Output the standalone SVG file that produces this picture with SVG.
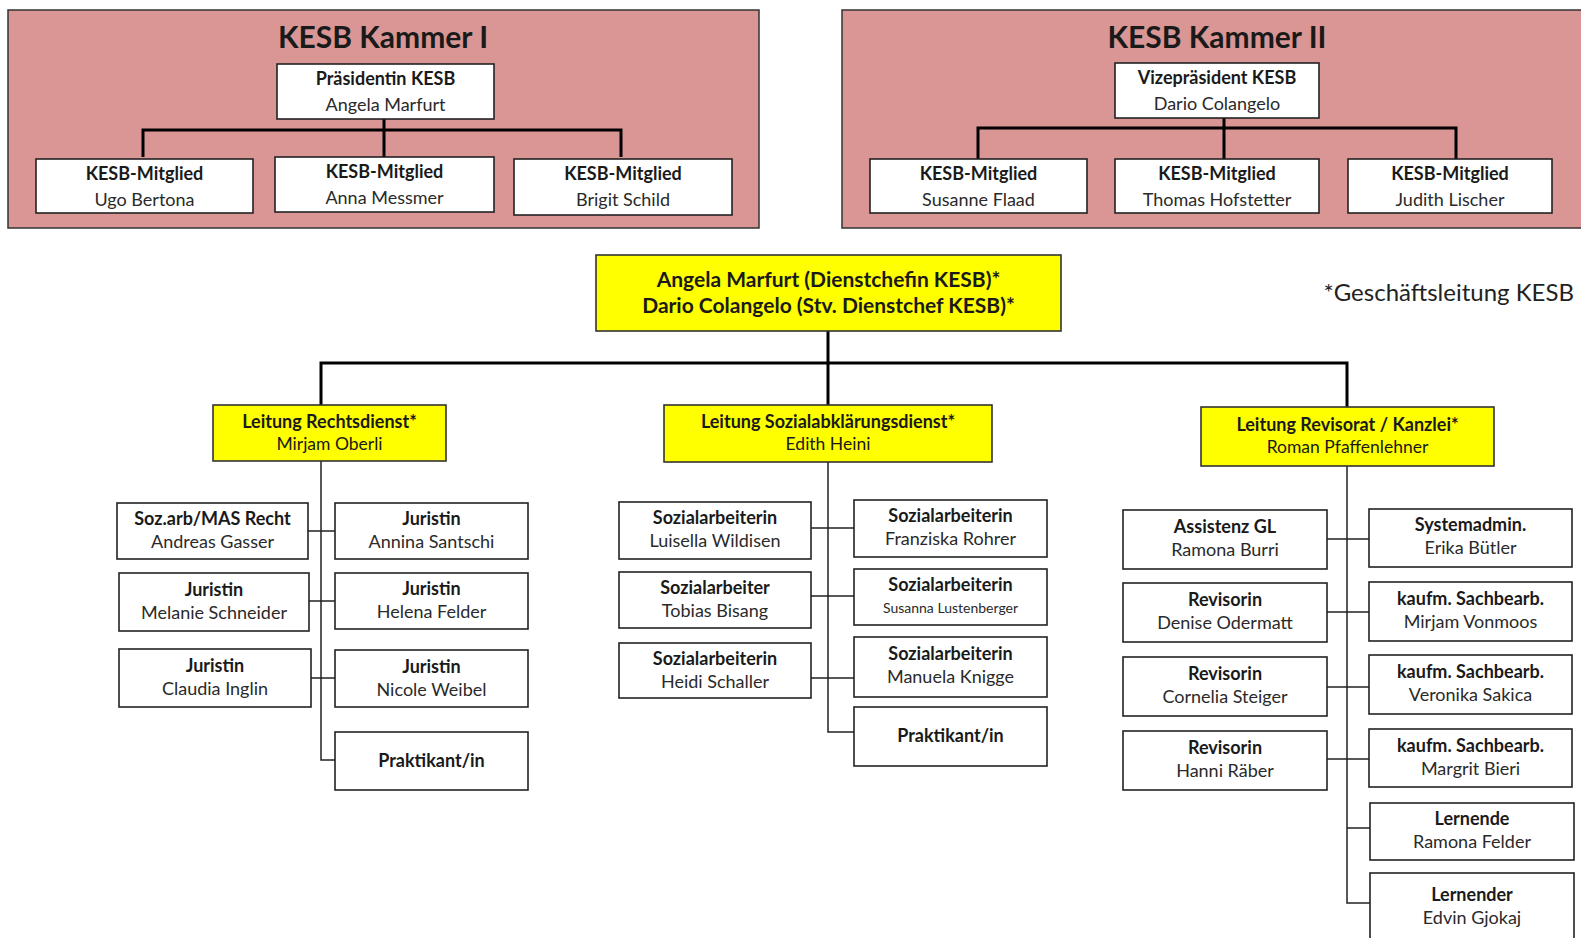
<svg xmlns="http://www.w3.org/2000/svg" width="1581" height="938" viewBox="0 0 1581 938">
<style>
.kam{fill:#D99694;stroke:#333;stroke-width:1.5}
.box{fill:#fff;stroke:#222;stroke-width:1.6}
.yel{fill:#FFFF00;stroke:#333;stroke-width:1.6}
text{font-family:Lato,"Open Sans","Liberation Sans",sans-serif;fill:#1a1a1a;text-anchor:middle}
.b{font-weight:bold;font-size:18px}
.r{font-size:18px;fill:#2a2a2a}
.lb{font-weight:bold;font-size:18px}
.lr{font-size:17.5px}
.t{font-weight:bold;font-size:30px}
.c{font-weight:bold;font-size:21px}
.note{font-size:24px;text-anchor:end;fill:#222}
.thick{stroke:#000;stroke-width:3;fill:none}
.thin{stroke:#222;stroke-width:1.5;fill:none}
</style>
<rect width="1581" height="938" fill="#fff"/>

<g id="kammer1">
<rect class="kam" x="8" y="10" width="751" height="218"/>
<text class="t" x="383" y="48">KESB Kammer I</text>
</g>
<g id="kammer2">
<rect class="kam" x="842" y="10" width="745" height="218"/>
<text class="t" x="1217" y="48">KESB Kammer II</text>
</g>

<g id="connectors">
<path class="thick" d="M384 119V130M143 157V130H621V157M384 130V157"/>
<path class="thick" d="M1224 118V128M978 159V128H1456V159M1224 128V159"/>
<path class="thick" d="M828 331V363M321 405V363H1347V407M828 363V405"/>
<path class="thin" d="M321 461V760H335M308 531H335M309 601H335M311 678H335"/>
<path class="thin" d="M828 462V732H854M811 528H854M811 596H854M811 678H854"/>
<path class="thin" d="M1347 466V903H1370M1347 828H1370M1327 539H1369M1327 612H1369M1327 687H1369M1327 759H1369"/>
</g>

<g id="praesidentin">
<rect class="box" x="277" y="64" width="217" height="55"/>
<text class="b" x="385.5" y="85">Präsidentin KESB</text>
<text class="r" x="385.5" y="111">Angela Marfurt</text>
</g>
<g id="k1-bertona">
<rect class="box" x="36" y="159" width="217" height="54"/>
<text class="b" x="144.5" y="180">KESB-Mitglied</text>
<text class="r" x="144.5" y="206">Ugo Bertona</text>
</g>
<g id="k1-messmer">
<rect class="box" x="275" y="157" width="219" height="55"/>
<text class="b" x="384.5" y="178">KESB-Mitglied</text>
<text class="r" x="384.5" y="204">Anna Messmer</text>
</g>
<g id="k1-schild">
<rect class="box" x="514" y="159" width="218" height="56"/>
<text class="b" x="623" y="180">KESB-Mitglied</text>
<text class="r" x="623" y="206">Brigit Schild</text>
</g>

<g id="vizepraesident">
<rect class="box" x="1115" y="63" width="204" height="55"/>
<text class="b" x="1217" y="84">Vizepräsident KESB</text>
<text class="r" x="1217" y="110">Dario Colangelo</text>
</g>
<g id="k2-flaad">
<rect class="box" x="870" y="159" width="217" height="54"/>
<text class="b" x="978.5" y="180">KESB-Mitglied</text>
<text class="r" x="978.5" y="206">Susanne Flaad</text>
</g>
<g id="k2-hofstetter">
<rect class="box" x="1115" y="159" width="204" height="54"/>
<text class="b" x="1217" y="180">KESB-Mitglied</text>
<text class="r" x="1217" y="206">Thomas Hofstetter</text>
</g>
<g id="k2-lischer">
<rect class="box" x="1348" y="159" width="204" height="54"/>
<text class="b" x="1450" y="180">KESB-Mitglied</text>
<text class="r" x="1450" y="206">Judith Lischer</text>
</g>

<g id="dienstchef">
<rect class="yel" x="596" y="255" width="465" height="76"/>
<text class="c" x="828.5" y="287">Angela Marfurt (Dienstchefin KESB)*</text>
<text class="c" x="828.5" y="313">Dario Colangelo (Stv. Dienstchef KESB)*</text>
</g>
<g id="note">
<text class="note" x="1574" y="301">*Geschäftsleitung KESB</text>
</g>

<g id="leitung-recht">
<rect class="yel" x="213" y="405" width="233" height="56"/>
<text class="lb" x="329.5" y="428">Leitung Rechtsdienst*</text>
<text class="lr" x="329.5" y="450">Mirjam Oberli</text>
</g>
<g id="leitung-sozial">
<rect class="yel" x="664" y="405" width="328" height="57"/>
<text class="lb" x="828" y="428">Leitung Sozialabklärungsdienst*</text>
<text class="lr" x="828" y="450">Edith Heini</text>
</g>
<g id="leitung-revisorat">
<rect class="yel" x="1201" y="407" width="293" height="59"/>
<text class="lb" x="1347.5" y="431">Leitung Revisorat / Kanzlei*</text>
<text class="lr" x="1347.5" y="453">Roman Pfaffenlehner</text>
</g>

<g id="r-gasser">
<rect class="box" x="117" y="503" width="191" height="56"/>
<text class="b" x="212.5" y="525">Soz.arb/MAS Recht</text>
<text class="r" x="212.5" y="548">Andreas Gasser</text>
</g>
<g id="r-santschi">
<rect class="box" x="335" y="503" width="193" height="56"/>
<text class="b" x="431.5" y="525">Juristin</text>
<text class="r" x="431.5" y="548">Annina Santschi</text>
</g>
<g id="r-schneider">
<rect class="box" x="119" y="573" width="190" height="58"/>
<text class="b" x="214" y="596">Juristin</text>
<text class="r" x="214" y="619">Melanie Schneider</text>
</g>
<g id="r-felder">
<rect class="box" x="335" y="573" width="193" height="56"/>
<text class="b" x="431.5" y="595">Juristin</text>
<text class="r" x="431.5" y="618">Helena Felder</text>
</g>
<g id="r-inglin">
<rect class="box" x="119" y="649" width="192" height="58"/>
<text class="b" x="215" y="672">Juristin</text>
<text class="r" x="215" y="695">Claudia Inglin</text>
</g>
<g id="r-weibel">
<rect class="box" x="335" y="650" width="193" height="57"/>
<text class="b" x="431.5" y="673">Juristin</text>
<text class="r" x="431.5" y="696">Nicole Weibel</text>
</g>
<g id="r-praktikant">
<rect class="box" x="335" y="732" width="193" height="58"/>
<text class="b" x="431.5" y="767">Praktikant/in</text>
</g>

<g id="s-wildisen">
<rect class="box" x="619" y="502" width="192" height="57"/>
<text class="b" x="715" y="524">Sozialarbeiterin</text>
<text class="r" x="715" y="547">Luisella Wildisen</text>
</g>
<g id="s-rohrer">
<rect class="box" x="854" y="500" width="193" height="57"/>
<text class="b" x="950.5" y="522">Sozialarbeiterin</text>
<text class="r" x="950.5" y="545">Franziska Rohrer</text>
</g>
<g id="s-bisang">
<rect class="box" x="619" y="572" width="192" height="56"/>
<text class="b" x="715" y="594">Sozialarbeiter</text>
<text class="r" x="715" y="617">Tobias Bisang</text>
</g>
<g id="s-lustenberger">
<rect class="box" x="854" y="569" width="193" height="56"/>
<text class="b" x="950.5" y="591">Sozialarbeiterin</text>
<text class="r" x="950.5" y="613" style="font-size:14px">Susanna Lustenberger</text>
</g>
<g id="s-schaller">
<rect class="box" x="619" y="643" width="192" height="55"/>
<text class="b" x="715" y="665">Sozialarbeiterin</text>
<text class="r" x="715" y="688">Heidi Schaller</text>
</g>
<g id="s-knigge">
<rect class="box" x="854" y="637" width="193" height="60"/>
<text class="b" x="950.5" y="660">Sozialarbeiterin</text>
<text class="r" x="950.5" y="683">Manuela Knigge</text>
</g>
<g id="s-praktikant">
<rect class="box" x="854" y="707" width="193" height="59"/>
<text class="b" x="950.5" y="742">Praktikant/in</text>
</g>

<g id="k-burri">
<rect class="box" x="1123" y="510" width="204" height="59"/>
<text class="b" x="1225" y="533">Assistenz GL</text>
<text class="r" x="1225" y="556">Ramona Burri</text>
</g>
<g id="k-buetler">
<rect class="box" x="1369" y="509" width="203" height="58"/>
<text class="b" x="1470.5" y="531">Systemadmin.</text>
<text class="r" x="1470.5" y="554">Erika Bütler</text>
</g>
<g id="k-odermatt">
<rect class="box" x="1123" y="583" width="204" height="59"/>
<text class="b" x="1225" y="606">Revisorin</text>
<text class="r" x="1225" y="629">Denise Odermatt</text>
</g>
<g id="k-vonmoos">
<rect class="box" x="1369" y="582" width="203" height="59"/>
<text class="b" x="1470.5" y="605">kaufm. Sachbearb.</text>
<text class="r" x="1470.5" y="628">Mirjam Vonmoos</text>
</g>
<g id="k-steiger">
<rect class="box" x="1123" y="657" width="204" height="59"/>
<text class="b" x="1225" y="680">Revisorin</text>
<text class="r" x="1225" y="703">Cornelia Steiger</text>
</g>
<g id="k-sakica">
<rect class="box" x="1369" y="655" width="203" height="59"/>
<text class="b" x="1470.5" y="678">kaufm. Sachbearb.</text>
<text class="r" x="1470.5" y="701">Veronika Sakica</text>
</g>
<g id="k-raeber">
<rect class="box" x="1123" y="731" width="204" height="59"/>
<text class="b" x="1225" y="754">Revisorin</text>
<text class="r" x="1225" y="777">Hanni Räber</text>
</g>
<g id="k-bieri">
<rect class="box" x="1369" y="729" width="203" height="58"/>
<text class="b" x="1470.5" y="752">kaufm. Sachbearb.</text>
<text class="r" x="1470.5" y="775">Margrit Bieri</text>
</g>
<g id="k-rfelder">
<rect class="box" x="1370" y="803" width="204" height="57"/>
<text class="b" x="1472" y="825">Lernende</text>
<text class="r" x="1472" y="848">Ramona Felder</text>
</g>
<g id="k-gjokaj">
<rect class="box" x="1370" y="873" width="204" height="80"/>
<text class="b" x="1472" y="901">Lernender</text>
<text class="r" x="1472" y="924">Edvin Gjokaj</text>
</g>
</svg>
